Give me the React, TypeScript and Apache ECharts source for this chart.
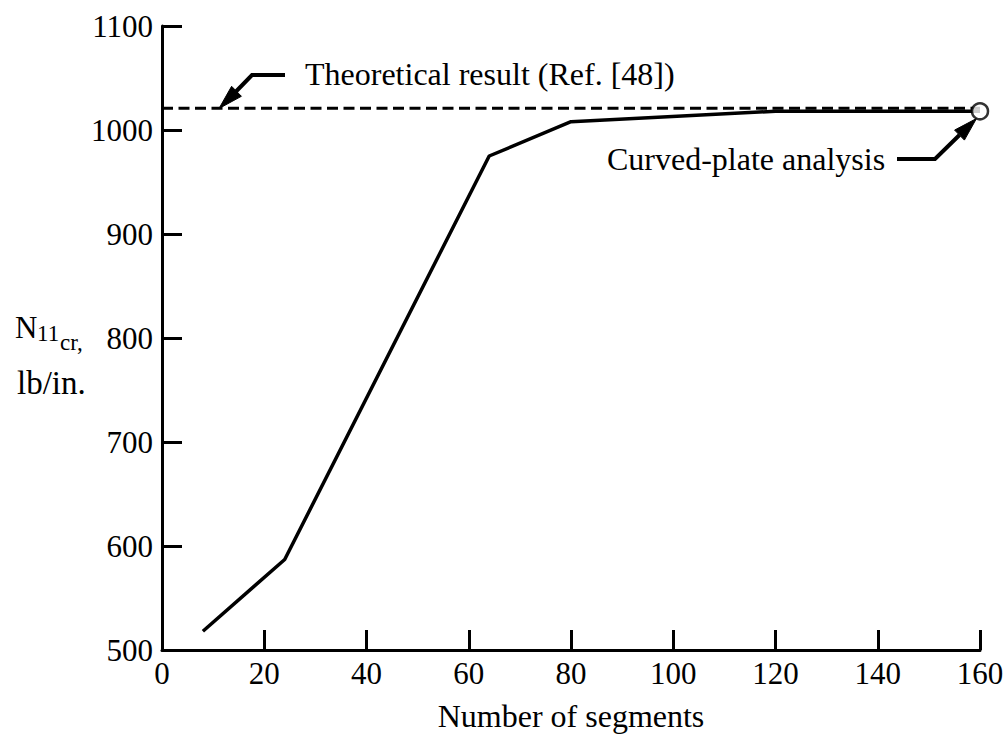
import React, { useEffect, useRef } from "react";
import * as echarts from "echarts";

// Data
const segments = [8, 24, 64, 80, 120, 160];
const nCr = [518, 587, 975, 1008, 1018, 1018];
const theoreticalValue = 1021;
const theoreticalRange = [0, 160];
const analysisPoint = [160, 1018];

const xAxisMin = 0;
const xAxisMax = 160;
const xAxisInterval = 20;
const yAxisMin = 500;
const yAxisMax = 1100;
const yAxisInterval = 100;

const xTitle = "Number of segments";
const theoryLabel = "Theoretical result (Ref. [48])";
const analysisLabel = "Curved-plate analysis";

const FONT = "Liberation Serif";

export default function App() {
  const ref = useRef<HTMLDivElement>(null);

  useEffect(() => {
    if (!ref.current) return;
    const chart = echarts.init(ref.current, undefined, { renderer: "svg" });

    const black = "#000";
    const textStyle = { fill: black, fontFamily: FONT, fontSize: 32 };

    const option: any = {
      animation: false,
      backgroundColor: "#fff",
      grid: { left: 162, right: 28, top: 26, bottom: 88, containLabel: false },
      xAxis: {
        type: "value",
        min: xAxisMin,
        max: xAxisMax,
        interval: xAxisInterval,
        name: xTitle,
        nameLocation: "middle",
        nameGap: 50,
        nameTextStyle: { fontFamily: FONT, fontSize: 32, color: black },
        axisLine: { show: true, lineStyle: { color: black, width: 3 } },
        axisTick: { show: true, inside: true, length: 20, lineStyle: { color: black, width: 3 } },
        axisLabel: {
          fontFamily: FONT,
          fontSize: 31,
          color: black,
          margin: 8,
          formatter: (v: number) => String(v),
        },
        splitLine: { show: false },
      },
      yAxis: {
        type: "value",
        min: yAxisMin,
        max: yAxisMax,
        interval: yAxisInterval,
        axisLine: { show: true, lineStyle: { color: black, width: 3 } },
        axisTick: { show: true, inside: true, length: 20, lineStyle: { color: black, width: 3 } },
        axisLabel: {
          fontFamily: FONT,
          fontSize: 31,
          color: black,
          margin: 9,
          formatter: (v: number) => String(v),
        },
        splitLine: { show: false },
      },
      series: [
        {
          type: "line",
          data: theoreticalRange.map((x) => [x, theoreticalValue]),
          symbol: "none",
          lineStyle: { color: black, width: 3, type: [11, 5.5] },
          z: 2,
        },
        {
          type: "line",
          data: segments.map((x, i) => [x, nCr[i]]),
          symbol: "none",
          lineStyle: { color: black, width: 3.5 },
          z: 3,
        },
        {
          type: "scatter",
          data: [analysisPoint],
          symbol: "circle",
          symbolSize: 16,
          itemStyle: { color: "#fff", borderColor: black, borderWidth: 2.5 },
          z: 4,
        },
      ],
      graphic: [
        // Y-axis title: N_11cr, lb/in.
        { type: "text", left: 15, top: 312, style: { text: "N", fill: black, fontFamily: FONT, fontSize: 31 } },
        { type: "text", left: 37, top: 322, style: { text: "11", fill: black, fontFamily: FONT, fontSize: 23 } },
        { type: "text", left: 60, top: 331, style: { text: "cr,", fill: black, fontFamily: FONT, fontSize: 23 } },
        { type: "text", left: 17, top: 366, style: { text: "lb/in.", fill: black, fontFamily: FONT, fontSize: 33 } },
        // Theoretical annotation
        { type: "text", left: 305, top: 58, style: { text: theoryLabel, ...textStyle } },
        {
          type: "polyline",
          shape: { points: [[285, 75], [252, 75], [236, 91.5]] },
          style: { stroke: black, lineWidth: 4, fill: null },
        },
        {
          type: "polygon",
          shape: { points: [[219, 108.5], [241.4, 96.3], [231.6, 86.3]] },
          style: { fill: black, stroke: black, lineWidth: 1 },
        },
        // Curved-plate annotation
        { type: "text", left: 607, top: 143, style: { text: analysisLabel, ...textStyle } },
        {
          type: "polyline",
          shape: { points: [[897, 159], [935, 159], [959.5, 135]] },
          style: { stroke: black, lineWidth: 4, fill: null },
        },
        {
          type: "polygon",
          shape: { points: [[976.5, 118.5], [964.4, 140.1], [954.6, 130.1]] },
          style: { fill: black, stroke: black, lineWidth: 1 },
        },
      ],
    };

    chart.setOption(option);
    return () => chart.dispose();
  }, []);

  return (
    <div
      ref={ref}
      style={{ position: "absolute", left: 0, top: 0, width: 1008, height: 738, background: "#fff" }}
    />
  );
}
